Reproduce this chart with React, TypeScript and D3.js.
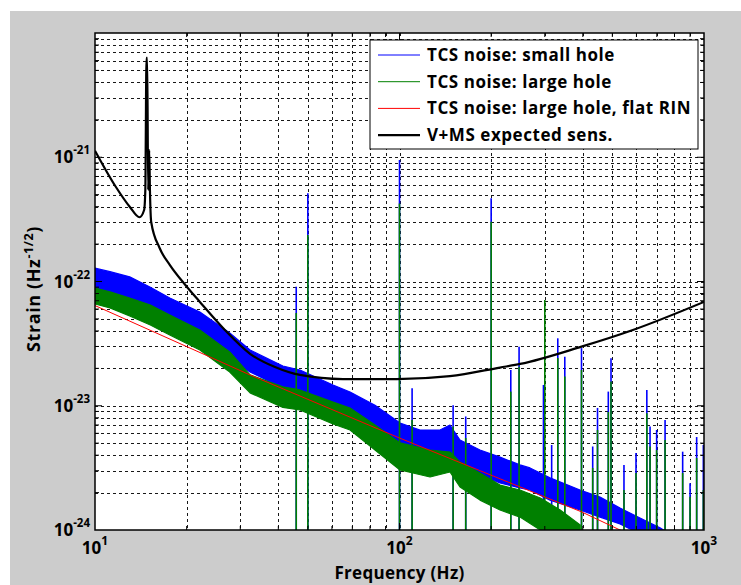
import React from 'react';
import * as d3 from 'd3';

// ---- Data ----
// TCS noise: small hole (blue) — envelope of the noisy spectrum
const blueFreq = [10, 11.2, 13.0, 15.2, 17.6, 22.1, 27.7, 32.3, 41.4, 47.1, 60.5, 68.8, 83.1, 100.4, 116.8, 135.8, 146.5, 158, 183.8, 213.8, 248.7, 268.3, 312, 391.6, 455.5, 530, 616.4, 717, 834];
const blueHi = [1.28e-22, 1.2e-22, 1.09e-22, 9.0e-23, 7.37e-23, 5.69e-23, 3.85e-23, 2.81e-23, 2.09e-23, 1.94e-23, 1.47e-23, 1.29e-23, 1.01e-23, 7.27e-24, 6.38e-24, 6.38e-24, 7.0e-24, 5.3e-24, 4.4e-24, 3.86e-24, 3.34e-24, 3.16e-24, 2.63e-24, 2.1e-24, 1.84e-24, 1.5e-24, 1.25e-24, 1.04e-24, 8.3e-25];
const blueLo = [8.54e-23, 7.94e-23, 7.1e-23, 5.9e-23, 4.72e-23, 3.51e-23, 2.42e-23, 1.87e-23, 1.39e-23, 1.24e-23, 9.6e-24, 8.9e-24, 6.6e-24, 4.83e-24, 4.4e-24, 4.16e-24, 3.86e-24, 3.47e-24, 2.77e-24, 2.39e-24, 2.18e-24, 2.1e-24, 1.74e-24, 1.45e-24, 1.27e-24, 1.12e-24, 9.3e-25, 7.6e-25, 6.3e-25];

// TCS noise: large hole (green)
const greenFreq = [10, 11.2, 13.0, 15.2, 17.6, 22.1, 27.7, 32.3, 41.4, 47.1, 60.5, 68.8, 83.1, 100.4, 126, 146.5, 158, 183.8, 213.8, 248.7, 290, 337, 392];
const greenHi = [8.87e-23, 8.24e-23, 7.37e-23, 6.47e-23, 5.38e-23, 4.07e-23, 2.71e-23, 1.77e-23, 1.42e-23, 1.34e-23, 1.07e-23, 9.6e-24, 7.0e-24, 5.02e-24, 4.4e-24, 4.24e-24, 3.53e-24, 2.88e-24, 2.3e-24, 2.1e-24, 1.81e-24, 1.45e-24, 1.1e-24];
const greenLo = [6.59e-23, 6.13e-23, 5.28e-23, 4.47e-23, 3.71e-23, 2.81e-23, 1.87e-23, 1.27e-23, 9.7e-24, 9.24e-24, 7.13e-24, 6.38e-24, 4.4e-24, 3.04e-24, 2.67e-24, 2.93e-24, 2.22e-24, 1.74e-24, 1.45e-24, 1.27e-24, 1.0e-24, 7.6e-25, 6.3e-25];

// Spectral lines: frequency, top of blue line, top of green line
const spikeFreq = [45.8, 50, 100, 110, 150, 165, 200, 232, 247, 297, 300, 316, 331, 349, 396, 431, 447, 485, 495, 546, 598, 649, 665, 699, 745, 851, 900, 946, 995];
const spikeBlue = [9.08e-23, 5.13e-22, 9.5e-22, 1.38e-23, 1.01e-23, 8.2e-24, 4.67e-22, 1.94e-23, 2.99e-23, 1.47e-23, null, 4.83e-24, 3.49e-23, 2.48e-23, 2.91e-23, 4.7e-24, 9.6e-24, 1.3e-23, 2.41e-23, 3.34e-24, 4.16e-24, 1.34e-23, 6.8e-24, 6.38e-24, 7.68e-24, 4.27e-24, 2.38e-24, 5.6e-24, 4.83e-24];
const spikeGreen = [5.58e-23, 2.37e-22, 4.25e-22, 7.68e-24, 6.8e-24, 5.5e-24, 3.03e-22, 1.3e-23, 2.06e-23, null, 7.1e-23, null, 2.42e-23, 1.72e-23, 1.94e-23, 3.16e-24, 6.38e-24, 8.9e-24, 1.57e-23, 2.1e-24, 2.88e-24, 8.7e-24, 4.7e-24, 4.4e-24, 5.3e-24, 2.88e-24, 1.85e-24, 3.8e-24, 2.1e-24];

// TCS noise: large hole, flat RIN (red)
const redFreq = [10, 32.3, 100, 396, 530, 1000];
const redVal = [6.4e-23, 1.77e-23, 5.5e-24, 1.4e-24, 1.0e-24, 5.3e-25];

// V+MS expected sensitivity (black)
const blackFreq = [10, 11.7, 13.0, 14.0, 14.5, 14.63, 14.76, 14.84, 14.95, 15.07, 15.15, 15.3, 16.3, 17.6, 19.8, 22.1, 26.7, 32.3, 39.0, 47.1, 65.2, 97.9, 146.4, 213.8, 249, 396, 584, 1000];
const blackVal = [1.13e-21, 5.79e-22, 4.0e-22, 3.29e-22, 3.76e-22, 5.45e-22, 6.3e-21, 6.3e-21, 5.45e-22, 1.14e-21, 5.45e-22, 3.0e-22, 1.86e-22, 1.36e-22, 9.37e-23, 6.85e-23, 4.07e-23, 2.62e-23, 2.05e-23, 1.77e-23, 1.64e-23, 1.64e-23, 1.73e-23, 2.03e-23, 2.17e-23, 2.99e-23, 4.07e-23, 6.85e-23];

const xTickExps = [1, 2, 3];
const yTickExps = [-24, -23, -22, -21];
const legendLabels = ['TCS noise: small hole', 'TCS noise: large hole', 'TCS noise: large hole, flat RIN', 'V+MS expected sens.'];
const legendColors = ['#0000ff', '#008000', '#ff0000', '#000000'];
const legendWidths = [1, 1, 1, 2.2];

export default function App() {
  const W = 741, H = 585;
  const L = 95, R = 704, T = 33, B = 530;
  const x = d3.scaleLog().domain([10, 1000]).range([L, R]);
  const y = d3.scaleLog().domain([1e-24, 1e-20]).range([B, T]);
  const font = '"Open Sans", Lato, sans-serif';

  const band = (f: number[], hi: number[], lo: number[]) =>
    d3.area<number>().x((i) => x(f[i])).y0((i) => y(lo[i])).y1((i) => y(hi[i]))(d3.range(f.length)) || '';

  const redPath = d3.line<number>().x((i) => x(redFreq[i])).y((i) => y(redVal[i]))(d3.range(redFreq.length)) || '';
  const blackPath = d3.line<number>().x((i) => x(blackFreq[i])).y((i) => y(blackVal[i])).curve(d3.curveMonotoneX)(d3.range(blackFreq.length)) || '';

  const xMinor: number[] = [];
  for (let d = 10; d < 1000; d *= 10) for (let k = 1; k < 10; k++) xMinor.push(k * d);
  const xGrid = xMinor.filter((v) => v > 10 && v < 1000);
  const yGrid: number[] = [];
  for (let e = -24; e < -20; e++) for (let k = 1; k < 10; k++) yGrid.push(k * Math.pow(10, e));
  const yGridIn = yGrid.filter((v) => v > 1e-24 * 1.0001);

  const isMajor = (v: number) => Math.abs(Math.log10(v) - Math.round(Math.log10(v))) < 1e-6;

  return (
    <svg width={W} height={H} style={{ position: 'absolute', left: 0, top: 0, background: '#fff' }}>
      <defs>
        <clipPath id="plotclip">
          <rect x={L} y={T} width={R - L} height={B - T} />
        </clipPath>
      </defs>
      <rect x={10} y={11} width={W - 10} height={H - 11} fill="#cccccc" />
      <rect x={L} y={T} width={R - L} height={B - T} fill="#ffffff" />

      {/* grid */}
      <g stroke="#000" strokeWidth={1} strokeDasharray="3,3" shapeRendering="crispEdges" opacity={0.9}>
        {xGrid.map((v) => (
          <line key={'gx' + v} x1={Math.round(x(v)) + 0.5} x2={Math.round(x(v)) + 0.5} y1={T} y2={B} />
        ))}
        {yGridIn.map((v) => (
          <line key={'gy' + v} x1={L} x2={R} y1={Math.round(y(v)) + 0.5} y2={Math.round(y(v)) + 0.5} />
        ))}
      </g>

      {/* data */}
      <g clipPath="url(#plotclip)">
        <path d={band(blueFreq, blueHi, blueLo)} fill="#0000ff" stroke="#0000ff" strokeWidth={1.2} strokeLinejoin="round" />
        {spikeFreq.map((f, i) =>
          spikeBlue[i] == null ? null : (
            <line key={'sb' + i} x1={x(f)} x2={x(f)} y1={B + 5} y2={y(spikeBlue[i] as number)} stroke="#0000ff" strokeWidth={1.6} />
          )
        )}
        <path d={band(greenFreq, greenHi, greenLo)} fill="#008000" stroke="#008000" strokeWidth={1.2} strokeLinejoin="round" />
        {spikeFreq.map((f, i) =>
          spikeGreen[i] == null ? null : (
            <line key={'sg' + i} x1={x(f)} x2={x(f)} y1={B + 5} y2={y(spikeGreen[i] as number)} stroke="#008000" strokeWidth={1.6} />
          )
        )}
        <path d={redPath} fill="none" stroke="#ff0000" strokeWidth={1} />
        <path d={blackPath} fill="none" stroke="#000" strokeWidth={2.2} strokeLinejoin="round" />
      </g>

      {/* axes box and ticks */}
      <rect x={L} y={T} width={R - L} height={B - T} fill="none" stroke="#000" strokeWidth={1.5} />
      <g stroke="#000" strokeWidth={1}>
        {xMinor.filter((v) => v > 10 && v < 1000).map((v) => {
          const len = isMajor(v) ? 7 : 4;
          const xx = x(v);
          return (
            <g key={'tx' + v}>
              <line x1={xx} x2={xx} y1={B} y2={B - len} />
              <line x1={xx} x2={xx} y1={T} y2={T + len} />
            </g>
          );
        })}
        {yGridIn.map((v) => {
          const len = isMajor(v) ? 7 : 4;
          const yy = y(v);
          return (
            <g key={'ty' + v}>
              <line x1={L} x2={L + len} y1={yy} y2={yy} />
              <line x1={R} x2={R - len} y1={yy} y2={yy} />
            </g>
          );
        })}
      </g>

      {/* tick labels */}
      <g fontFamily={font} fontWeight="bold" fill="#000">
        {xTickExps.map((e) => (
          <text key={'xl' + e} x={x(Math.pow(10, e))} y={554} textAnchor="middle" fontSize={17}>
            10<tspan fontSize={12} dy={-9}>{e}</tspan>
          </text>
        ))}
        {yTickExps.map((e) => (
          <text key={'yl' + e} x={90} y={y(Math.pow(10, e)) + 6} textAnchor="end" fontSize={17}>
            10<tspan fontSize={11.5} dy={-9}>{e}</tspan>
          </text>
        ))}
        <text x={(L + R) / 2} y={579} textAnchor="middle" fontSize={17} letterSpacing={0.3}>Frequency (Hz)</text>
        <text transform={`translate(40,289) rotate(-90)`} textAnchor="middle" fontSize={18} letterSpacing={0.6}>
          Strain (Hz<tspan fontSize={12.5} dy={-7}>-1/2</tspan><tspan dy={7}>)</tspan>
        </text>
      </g>

      {/* legend */}
      <g>
        <rect x={370} y={40} width={328} height={109} fill="#fff" stroke="#000" strokeWidth={1} />
        {legendLabels.map((lab, i) => {
          const ly = 55 + i * 26.7;
          return (
            <g key={'lg' + i}>
              <line x1={378} x2={420} y1={ly} y2={ly} stroke={legendColors[i]} strokeWidth={legendWidths[i]} />
              <text x={427} y={ly + 6} fontFamily={font} fontWeight="bold" fontSize={17} letterSpacing={0.55} fill="#000">{lab}</text>
            </g>
          );
        })}
      </g>
    </svg>
  );
}
